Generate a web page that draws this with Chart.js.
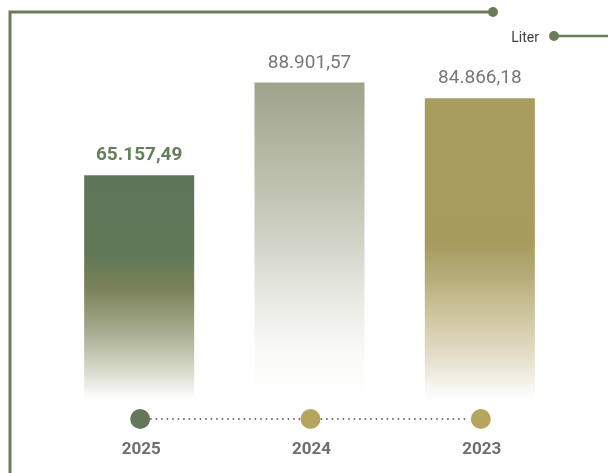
<!DOCTYPE html>
<html lang="id">
<head>
  <meta charset="UTF-8" />
  <title>Liter per Tahun</title>
  <script src="https://cdn.jsdelivr.net/npm/chart.js"></script>
  <style>
    body {
      margin: 0;
      background: #ffffff;
      font-family: Roboto, "Noto Sans", sans-serif;
    }
    .wrap {
      position: relative;
      width: 608px;
      height: 473px;
    }
  </style>
</head>
<body>
  <div class="wrap">
    <canvas id="literChart"></canvas>
  </div>

  <script>
    const years = ["2025", "2024", "2023"];
    const liters = [65157.49, 88901.57, 84866.18];
    const valueLabels = ["65.157,49", "88.901,57", "84.866,18"];
    const unitLabel = "Liter";

    const frameColor = "#6a7d5a";
    const dotColors = ["#64775a", "#b5a65d", "#b5a65d"];

    // gradient stops per bar, top to bottom
    const barStops = [
      [[0, "#5f7759"], [0.35, "#617858"], [0.5, "#7a8158"], [0.7, "#a7ad90"], [0.9, "#e2e3d8"], [1, "rgba(255,255,255,0.9)"]],
      [[0, "#a0a38b"], [0.3, "#bcbfab"], [0.5, "#d1d3c8"], [0.7, "#ecece6"], [0.85, "#f9f9f7"], [1, "#ffffff"]],
      [[0, "#a89d5f"], [0.48, "#a79c5d"], [0.6, "#b7ad7c"], [0.7, "#cbc298"], [0.85, "#e3ddc8"], [1, "#ffffff"]]
    ];

    function barGradient(ctx) {
      const chart = ctx.chart;
      const area = chart.chartArea;
      const i = ctx.dataIndex;
      if (!area || i === undefined) return barStops[0][0][1];
      const top = chart.scales.y.getPixelForValue(liters[i]);
      const g = chart.ctx.createLinearGradient(0, top, 0, area.bottom);
      barStops[i].forEach(([o, c]) => g.addColorStop(o, c));
      return g;
    }

    const decorations = {
      id: "decorations",
      beforeDraw(chart) {
        const c = chart.ctx;
        c.save();
        // frame
        c.strokeStyle = frameColor;
        c.lineWidth = 3;
        c.beginPath();
        c.moveTo(10, 473);
        c.lineTo(10, 12);
        c.lineTo(493, 12);
        c.stroke();
        c.fillStyle = frameColor;
        c.beginPath();
        c.arc(493, 12, 5, 0, Math.PI * 2);
        c.fill();

        // unit tag
        c.lineWidth = 2.5;
        c.beginPath();
        c.moveTo(554, 36);
        c.lineTo(608, 36);
        c.stroke();
        c.beginPath();
        c.arc(554, 36, 5, 0, Math.PI * 2);
        c.fill();
        c.fillStyle = "#3f3f3f";
        c.font = "14px Roboto";
        c.textAlign = "right";
        c.textBaseline = "middle";
        c.fillText(unitLabel, 539, 38);
        c.restore();
      },
      afterDatasetsDraw(chart) {
        const c = chart.ctx;
        const x = chart.scales.x;
        const meta = chart.getDatasetMeta(0);
        const dotY = chart.chartArea.bottom + 19;
        c.save();

        // value labels
        c.textAlign = "center";
        c.textBaseline = "alphabetic";
        meta.data.forEach((bar, i) => {
          if (i === 0) {
            c.font = "bold 19px Roboto";
            c.fillStyle = "#66805a";
          } else {
            c.font = "19px Roboto";
            c.fillStyle = "#777777";
          }
          c.fillText(valueLabels[i], bar.x, bar.y - 15);
        });

        // dotted timeline
        const xs = years.map((_, i) => x.getPixelForValue(i));
        c.strokeStyle = "#444444";
        c.lineWidth = 1.5;
        c.setLineDash([1.5, 4]);
        c.beginPath();
        c.moveTo(xs[0] + 11, dotY);
        c.lineTo(xs[xs.length - 1] - 11, dotY);
        c.stroke();
        c.setLineDash([]);

        xs.forEach((px, i) => {
          c.fillStyle = dotColors[i];
          c.beginPath();
          c.arc(px + 1, dotY, 10, 0, Math.PI * 2);
          c.fill();
        });

        // year labels
        c.font = "bold 17px Roboto";
        c.fillStyle = "#6e6e72";
        c.textBaseline = "middle";
        xs.forEach((px, i) => c.fillText(years[i], px + 2, dotY + 31));
        c.restore();
      }
    };

    new Chart(document.getElementById("literChart"), {
      type: "bar",
      data: {
        labels: years,
        datasets: [{
          label: unitLabel,
          data: liters,
          backgroundColor: barGradient,
          borderWidth: 0,
          barPercentage: 0.646,
          categoryPercentage: 1
        }]
      },
      options: {
        responsive: true,
        maintainAspectRatio: false,
        animation: false,
        layout: { padding: { left: 54, right: 43, top: 20, bottom: 73 } },
        plugins: {
          legend: { display: false },
          tooltip: { enabled: false }
        },
        scales: {
          x: { display: false },
          y: { display: false, min: 7700, max: 104900 }
        }
      },
      plugins: [decorations]
    });
  </script>
</body>
</html>
